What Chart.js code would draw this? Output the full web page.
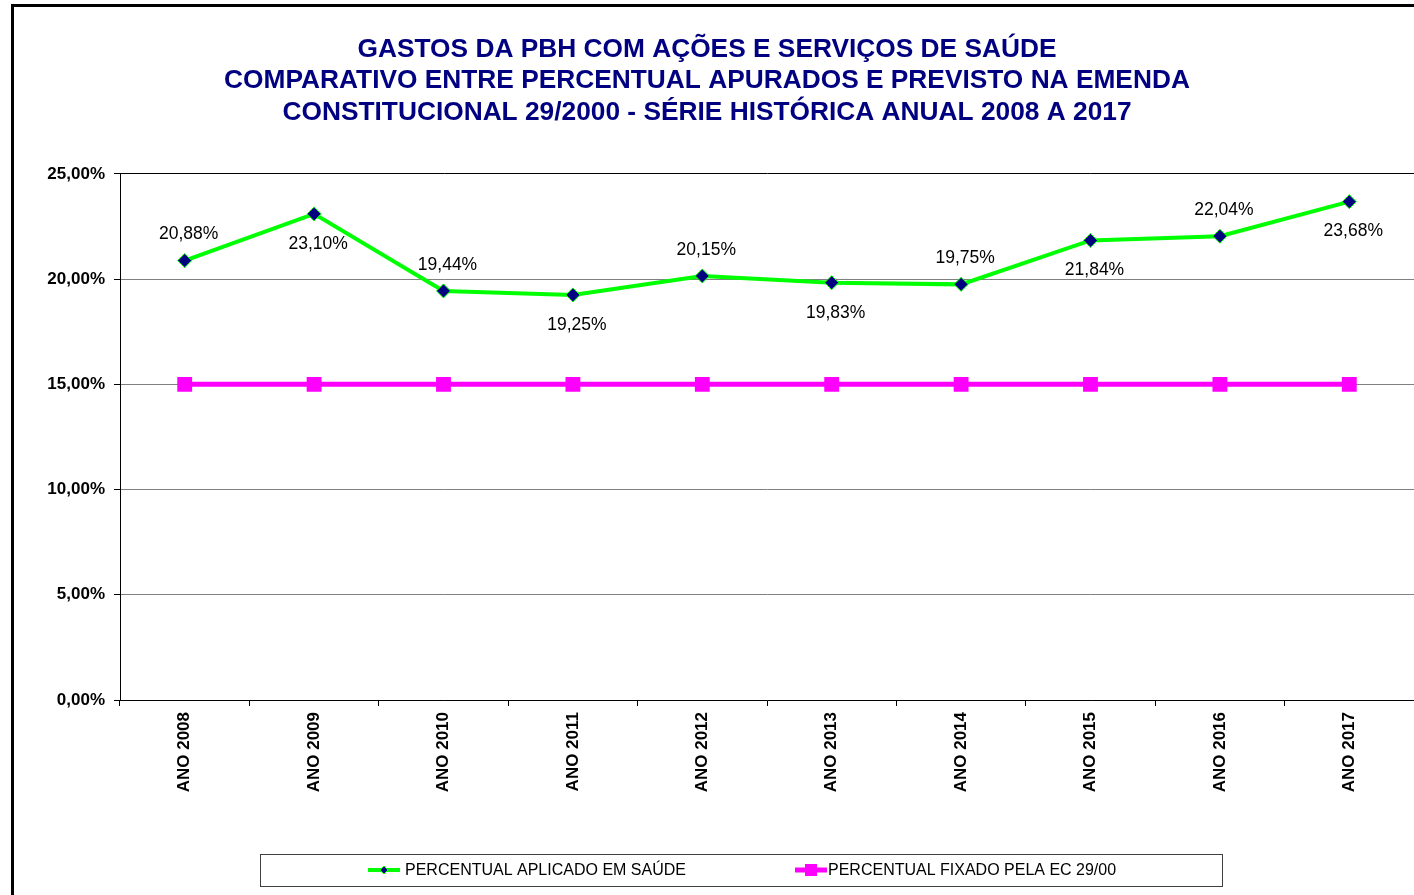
<!DOCTYPE html>
<html>
<head>
<meta charset="utf-8">
<script src="https://cdn.jsdelivr.net/npm/chart.js@4"></script>
<style>
  html, body { margin:0; padding:0; background:#fff; }
  canvas { display:block; }
</style>
</head>
<body>
<canvas id="c" width="1414" height="895"></canvas>
<script>
/* PBH health spending vs EC 29/2000 minimum */
const years = ['ANO 2008','ANO 2009','ANO 2010','ANO 2011','ANO 2012','ANO 2013','ANO 2014','ANO 2015','ANO 2016','ANO 2017'];
const aplicado = [20.88, 23.10, 19.44, 19.25, 20.15, 19.83, 19.75, 21.84, 22.04, 23.68];
const fixado = [15, 15, 15, 15, 15, 15, 15, 15, 15, 15];
const yTicks = [0, 5, 10, 15, 20, 25];
const titleLines = [
  'GASTOS DA PBH COM AÇÕES E SERVIÇOS DE SAÚDE',
  'COMPARATIVO ENTRE PERCENTUAL APURADOS E PREVISTO NA EMENDA',
  'CONSTITUCIONAL 29/2000 - SÉRIE HISTÓRICA ANUAL 2008 A 2017'
];
const legendNames = ['PERCENTUAL APLICADO EM SAÚDE', 'PERCENTUAL FIXADO PELA EC 29/00'];

const FONT = "'Liberation Sans', Arial, sans-serif";
const GREEN = '#00FF00', NAVY = '#000080', MAGENTA = '#FF00FF';
const pct = v => v.toFixed(2).replace('.', ',') + '%';

// outer frame + white background
const framePlugin = {
  id: 'frame',
  beforeDraw(chart){
    const ctx = chart.ctx;
    ctx.save();
    ctx.fillStyle = '#fff';
    ctx.fillRect(0, 0, chart.width, chart.height);
    ctx.strokeStyle = '#000'; ctx.lineWidth = 3;
    ctx.beginPath();
    ctx.moveTo(12.5, chart.height); ctx.lineTo(12.5, 5.5); ctx.lineTo(chart.width, 5.5);
    ctx.stroke();
    ctx.restore();
  }
};

// value labels, alternating above / below the green line
const labelPlugin = {
  id: 'valueLabels',
  afterDatasetsDraw(chart){
    const ctx = chart.ctx;
    const meta = chart.getDatasetMeta(0);
    ctx.save();
    ctx.font = '17.5px ' + FONT;
    ctx.fillStyle = '#000';
    ctx.textAlign = 'center';
    ctx.textBaseline = 'middle';
    meta.data.forEach((pt, i) => {
      const dy = i % 2 === 0 ? -26 : 30;
      ctx.fillText(pct(aplicado[i]), pt.x + 4, pt.y + dy);
    });
    ctx.restore();
  }
};

// boxed legend under the axis
const legendPlugin = {
  id: 'boxLegend',
  afterDraw(chart){
    const ctx = chart.ctx;
    const top = 854, h = 32, left = 260, right = 1222, cy = top + h/2;
    ctx.save();
    ctx.strokeStyle = '#404040'; ctx.lineWidth = 1;
    ctx.strokeRect(left + 0.5, top + 0.5, right - left, h);
    ctx.font = '16px ' + FONT;
    ctx.fillStyle = '#000';
    ctx.textBaseline = 'middle';
    ctx.textAlign = 'left';
    // item 1
    ctx.strokeStyle = GREEN; ctx.lineWidth = 4;
    ctx.beginPath(); ctx.moveTo(368, cy); ctx.lineTo(400, cy); ctx.stroke();
    ctx.fillStyle = NAVY; ctx.strokeStyle = GREEN; ctx.lineWidth = 1;
    ctx.beginPath(); ctx.moveTo(384, cy-4); ctx.lineTo(388, cy); ctx.lineTo(384, cy+4); ctx.lineTo(380, cy); ctx.closePath();
    ctx.fill(); ctx.stroke();
    ctx.fillStyle = '#000';
    ctx.fillText(legendNames[0], 405, cy + 1);
    // item 2
    ctx.strokeStyle = MAGENTA; ctx.lineWidth = 5;
    ctx.beginPath(); ctx.moveTo(795, cy); ctx.lineTo(827, cy); ctx.stroke();
    ctx.fillStyle = MAGENTA;
    ctx.fillRect(805, cy - 6, 12, 12);
    ctx.fillStyle = '#000';
    ctx.fillText(legendNames[1], 828, cy + 1);
    ctx.restore();
  }
};

new Chart(document.getElementById('c'), {
  type: 'line',
  data: {
    labels: years,
    datasets: [
      { label: legendNames[0], data: aplicado, borderColor: GREEN, borderWidth: 4, tension: 0,
        pointStyle: 'rectRot', pointRadius: 7, pointHoverRadius: 7,
        pointBackgroundColor: NAVY, pointBorderColor: GREEN, pointBorderWidth: 1 },
      { label: legendNames[1], data: fixado, borderColor: MAGENTA, borderWidth: 5, tension: 0,
        pointStyle: 'rect', pointRadius: 10.5, pointHoverRadius: 10.5,
        pointBackgroundColor: MAGENTA, pointBorderColor: MAGENTA, pointBorderWidth: 0 }
    ]
  },
  options: {
    responsive: false,
    animation: false,
    devicePixelRatio: 1,
    layout: { padding: 0, autoPadding: false },
    plugins: {
      legend: { display: false },
      tooltip: { enabled: false },
      title: {
        display: true,
        text: titleLines,
        color: NAVY,
        font: { family: FONT, size: 26.3, weight: 'bold', lineHeight: 1.19 },
        padding: { top: 34, bottom: 46 }
      }
    },
    scales: {
      x: {
        offset: true,
        grid: { offset: true, drawOnChartArea: false, tickLength: 6, color: '#000' },
        border: { color: '#000', width: 1 },
        ticks: {
          minRotation: 90, maxRotation: 90, autoSkip: false, padding: 6,
          color: '#000', font: { family: FONT, size: 17, weight: 'bold' }
        },
        afterFit(scale){ scale.height = 195; scale.paddingRight = 0; scale.paddingLeft = 0; }
      },
      y: {
        min: 0, max: 25,
        afterBuildTicks(scale){ scale.ticks = yTicks.map(v => ({ value: v })); },
        grid: {
          color: c => (c.tick && c.tick.value === 25) ? '#000' : '#808080',
          tickColor: '#000', tickLength: 6, lineWidth: 1
        },
        border: { color: '#000', width: 1 },
        ticks: {
          padding: 9, color: '#000',
          font: { family: FONT, size: 17, weight: 'bold' },
          callback: v => pct(v)
        },
        afterFit(scale){ scale.width = 120; }
      }
    }
  },
  plugins: [framePlugin, labelPlugin, legendPlugin]
});
</script>
</body>
</html>
